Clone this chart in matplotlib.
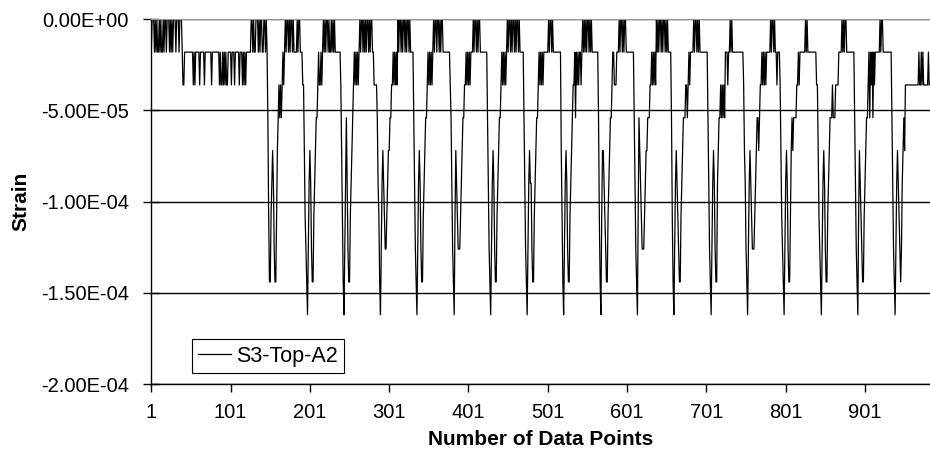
import numpy as np
import matplotlib
matplotlib.use('Agg')
from matplotlib import pyplot as plt

# strain in steps of one gauge count
step = 1.8e-05

# counts per data point (0 = 0.0, 9 = -1.62E-04)
lead_in = ("1000101011" "0101101001" "0001010100" "0100010001"
           "2211111111" "1112121111" "1211111211" "1111112111" "1111112122"
           "1212122111" "1211121111" "1211121212" "111111"
           "0010110001" "0100110010" "1")
first_dip = "3688654578" "8643232321" "2101001010" "0101111010" "0111224678"
cycles = [
    "97545788" "65433" "2122121" "0101001011010" "101111111" "2468",
    "97535788" "6543" "21212121" "0100101010010100" "11" "2222" "3568",
    "97545677" "654433" "22121212" "01001010010100101" "11" "13578",
    "97545788" "654332" "1212121" "0100100101001" "11111111" "23578",
    "964567776" "543322" "121212" "111" "010010100" "11111111" "13578",
    "97545788" "654332" "1212121" "0100101001010010" "11111" "3578",
    "975455788" "65433" "2121212" "111111" "010010" "1111111111" "468",
    "97545788" "65432" "21312121121" "010101001010" "11111111" "368",
    "964456788" "65433" "211222111" "010010100" "1111111111" "3578",
    "963456777" "6544333" "22121212" "010100101001010" "1111" "368",
    "975456788" "6543" "332232" "121111" "01001010" "1111111111" "3578",
    "97545788" "5433" "232323" "111211" "010" "1111111111111" "124578",
    "975456777" "654" "3343" "2212" "1212" "11111" "010010" "112111" "24678",
    "97545788" "6434" "3333" "22121" "111111" "0101" "11111111112" "24678",
    "97545788" "654" "3332333" "2222" "1111" "0101001" "111111111" "3578",
    "96456788" "65433" "2131213121" "11111" "0100" "11111111111" "3578",
    "97545678" "75434" "22222222222222222" "122121222222122",
]
series_name = 'S3-Top-A2'
y_ticks = [0.0, -5e-05, -1e-04, -1.5e-04, -2e-04]
x_ticks = [1, 101, 201, 301, 401, 501, 601, 701, 801, 901]

counts = np.array([int(c) for c in lead_in + first_dip + "".join(cycles)])
strain = -counts * step
points = np.arange(1, len(strain) + 1)

plt.rcParams['font.family'] = ['Liberation Sans', 'DejaVu Sans']

fig = plt.figure(figsize=(9.3, 4.59), dpi=100)
ax = fig.add_axes([151.3 / 930, 1 - 384 / 459, 1 - 151.3 / 930, (384 - 19.3) / 459])

ax.plot(points, strain, color='black', lw=0.9, label=series_name)

ax.set_xlim(1, len(strain))
ax.set_ylim(-2e-04, 0)
ax.set_yticks(y_ticks)
ax.set_yticklabels(['%.2E' % v for v in y_ticks])
ax.set_xticks(x_ticks)
ax.set_xticklabels([str(v) for v in x_ticks])
ax.tick_params(axis='y', direction='inout', length=12, width=1, labelsize=14.5, pad=10)
ax.tick_params(axis='x', direction='out', length=6, width=1, labelsize=14.5, pad=8)
ax.yaxis.grid(True, color='black', lw=1)

ax.spines['top'].set_color('#999999')
ax.spines['right'].set_visible(False)
for s in ['left', 'bottom']:
    ax.spines[s].set_color('black')
    ax.spines[s].set_linewidth(1)

ax.set_ylabel('Strain', fontsize=15, fontweight='bold')
ax.yaxis.set_label_coords(-0.155, 0.5)
ax.set_xlabel('Number of Data Points', fontsize=15, fontweight='bold', va='top')
ax.xaxis.set_label_coords(0.5, -0.126)

leg = ax.legend(loc='lower left', bbox_to_anchor=(192 / 930, 1 - 373 / 459),
                bbox_transform=fig.transFigure, borderaxespad=0, fancybox=False,
                edgecolor='black', framealpha=1, fontsize=15.5, handlelength=1.5,
                handletextpad=0.25, borderpad=0.3)
leg.get_frame().set_linewidth(0.8)

fig.savefig('out.png', dpi=100)
